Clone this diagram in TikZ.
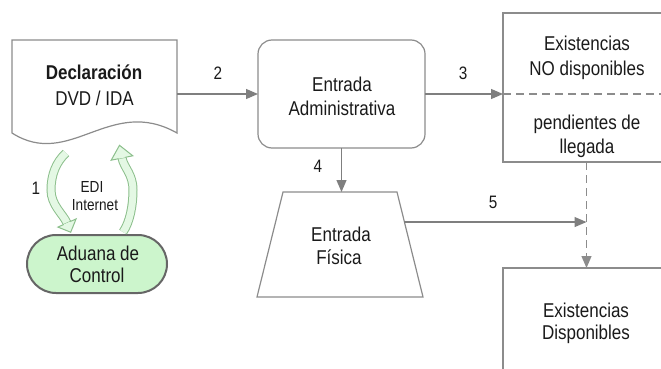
\documentclass[tikz,border=0pt]{standalone}
\usepackage{fontspec}
\setmainfont[FakeStretch=0.85]{Liberation Sans}
\usetikzlibrary{arrows.meta,calc}
\definecolor{boxgray}{HTML}{8C8C8C}
\definecolor{conngray}{HTML}{7F7F7F}
\definecolor{adufill}{HTML}{CCF5CC}
\definecolor{aduline}{HTML}{666666}
\definecolor{grfill}{HTML}{E4F8E4}
\definecolor{grline}{HTML}{8CBF8C}
\definecolor{txt}{HTML}{1A1A1A}
\begin{document}
\begin{tikzpicture}[x=1pt,y=-1pt,
  box/.style={draw=boxgray,line width=1.2pt},
  frame/.style={inner sep=0pt,outer sep=0pt},
  lbl/.style={font=\fontsize{20}{24}\selectfont,text=txt,inner sep=0pt,anchor=base},
  numlbl/.style={font=\fontsize{18}{22}\selectfont,text=txt,inner sep=0pt,anchor=base},
  small/.style={font=\fontsize{16}{19}\selectfont,text=txt,inner sep=0pt,anchor=base},
  conn/.style={draw=conngray,line width=1.2pt,-{Triangle[length=12pt,width=10pt]}},
  dashline/.style={draw=boxgray,line width=1.2pt,dash pattern=on 8pt off 5pt},
  shaftout/.style={draw=grline,line width=9pt},
  shaftin/.style={draw=grfill,line width=7pt},
  headtri/.style={fill=grfill,draw=grline,line width=1pt,line join=miter}]
\useasboundingbox (0,0) rectangle (661,369);
\clip (0,0) rectangle (661,369);

% Declaracion document
\node[frame,minimum width=165,minimum height=104] (doc) at (94.5,92) {};
\draw[box,fill=white] (12,40) -- (177,40) -- (177,133) .. controls (110,95) and (70,170) .. (12,133) -- cycle;
\node[lbl,font=\bfseries\fontsize{20}{24}\selectfont] (doct1) at (94,80) {Declaración};
\node[lbl] (doct2) at (94.5,105) {DVD / IDA};

% Entrada Administrativa
\node[box,frame,rounded corners=14,minimum width=167,minimum height=108] (adm) at (341.5,94) {};
\node[lbl] (admt1) at (342,91) {Entrada};
\node[lbl] (admt2) at (342,115) {Administrativa};

% Existencias NO disponibles
\node[box,frame,minimum width=167,minimum height=149] (nodisp) at (586.5,87.5) {};
\node[lbl] (nodt1) at (587,51) {Existencias};
\node[lbl] (nodt2) at (587,75) {NO disponibles};
\node[lbl] (nodt3) at (587,129) {pendientes de};
\node[lbl] (nodt4) at (587,153) {llegada};

% Existencias Disponibles
\node[box,frame,minimum width=167,minimum height=152] (disp) at (586.5,344) {};
\node[lbl] (dispt1) at (586,317) {Existencias};
\node[lbl] (dispt2) at (586,339) {Disponibles};

% Entrada Fisica (trapezoid)
\node[frame,minimum width=166,minimum height=105] (fis) at (340,244.5) {};
\draw[box] (fis.south west) -- (fis.south east) -- ([xshift=-26pt]fis.north east) -- ([xshift=26pt]fis.north west) -- cycle;
\node[lbl] (fist1) at (341,241) {Entrada};
\node[lbl] (fist2) at (339,264) {Física};

% Aduana de Control
\node[draw=aduline,line width=2pt,fill=adufill,frame,rounded corners=29,minimum width=140,minimum height=58] (adu) at (97,264) {};
\node[lbl] (adut1) at (98,260) {Aduana de};
\node[lbl] (adut2) at (97,282) {Control};

% connectors
\draw[conn] (adm.west -| doc.east) -- (adm.west);
\coordinate (d1) at (adm.east -| nodisp.west);
\coordinate (d2) at (adm.east -| nodisp.east);
\draw[dashline] (d1) -- (d2);
\draw[conn] (adm.east) -- (d1);
\draw[conn] (adm.south) -- (adm.south |- fis.north);
\draw[dashline,-{Triangle[length=12pt,width=10pt]}] (nodisp.south) -- (disp.north);
\coordinate (f5) at ($([xshift=-26pt]fis.north east)!0.286!(fis.south east)$);
\coordinate (j5) at (f5 -| nodisp.south);
\draw[conn] (f5) -- (j5);

% numbers
\node[numlbl] (n2) at (218,79) {2};
\node[numlbl] (n3) at (463,80) {3};
\node[numlbl] (n4) at (318,172) {4};
\node[numlbl] (n5) at (493,208) {5};
\node[numlbl] (n1) at (36,194) {1};
\node[small] (edi) at (92,192) {EDI};
\node[small] (inet) at (95,210) {Internet};

% green curved block arrows
\draw[shaftout] (66,153) .. controls (56,162) and (51,175) .. (51,190) .. controls (51,205) and (63,214) .. (67,223);
\draw[shaftin] (66,153) .. controls (56,162) and (51,175) .. (51,190) .. controls (51,205) and (63,214) .. (67,223);
\draw[headtri] (57.9,227.1) -- (70.7,232.2) -- (76.1,218.9) -- cycle;
\draw[shaftin] (67,223) -- (67.8,224.8);

\draw[shaftout] (123,232) .. controls (130,222) and (133,205) .. (133,190) .. controls (133,174) and (124,168) .. (122,158);
\draw[shaftin] (123,232) .. controls (130,222) and (133,205) .. (133,190) .. controls (133,174) and (124,168) .. (122,158);
\draw[headtri] (132.8,155.8) -- (119.5,145.3) -- (111.2,160.2) -- cycle;
\draw[shaftin] (122,158) -- (121.6,156);
\end{tikzpicture}
\end{document}
